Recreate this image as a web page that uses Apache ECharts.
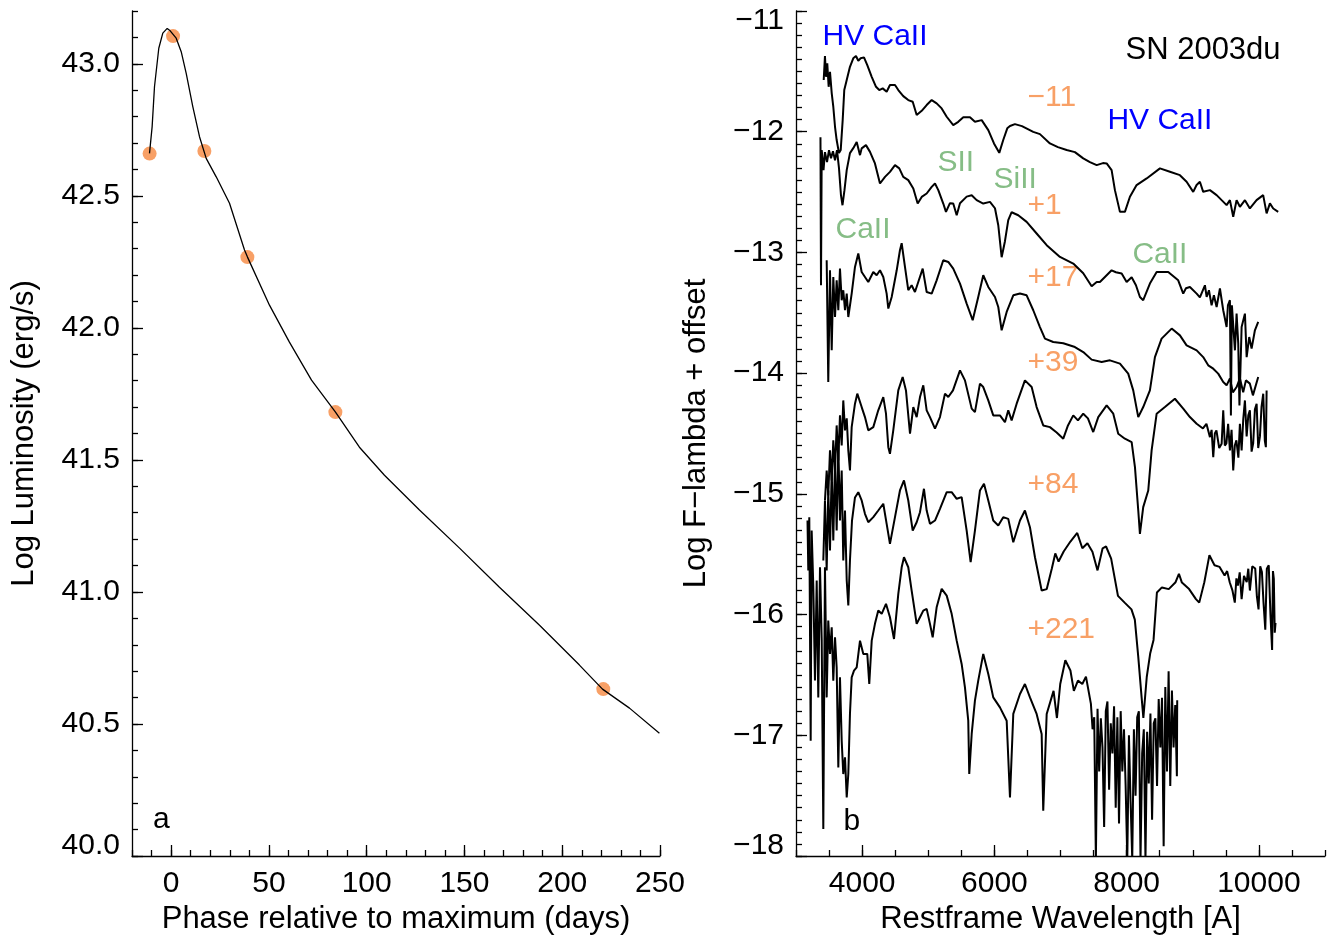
<!DOCTYPE html>
<html>
<head>
<meta charset="utf-8">
<title>SN 2003du</title>
<script src="https://cdn.jsdelivr.net/npm/echarts@6/dist/echarts.min.js"></script>
<style>
  html, body { margin: 0; padding: 0; background: #fff; }
  #chart { width: 1335px; height: 939px; }
</style>
</head>
<body>
<div id="chart"></div>
<script>
// panel a: bolometric light curve (days from max, log L)
const lcPhase = [-11.05, -9.7, -8.5, -6.3, -4.25, -2.0, -0.47, 2.6, 5.16, 7.72, 11.09, 14.52, 17.94, 23.06, 29.86, 37.53, 39.06, 50.3, 60.5, 71.8, 84.06, 96.3, 109.1, 127.0, 147.5, 167.9, 188.4, 208.8, 220.6, 234.4, 249.7]
const lcLogL = [42.661, 42.762, 42.913, 43.059, 43.116, 43.134, 43.125, 43.097, 43.046, 42.964, 42.838, 42.724, 42.642, 42.572, 42.472, 42.295, 42.268, 42.086, 41.946, 41.802, 41.681, 41.548, 41.442, 41.310, 41.166, 41.018, 40.874, 40.723, 40.632, 40.560, 40.465]

// epochs where a spectrum was taken
const specPhase = [-11, 1, 17, 39, 84, 221]
const specLogL = [42.66, 43.105, 42.67, 42.268, 41.681, 40.632]

// tick labels
const lcTicksX = [0, 50, 100, 150, 200, 250]
const lcTicksY = [40.0, 40.5, 41.0, 41.5, 42.0, 42.5, 43.0]
const specTicksX = [4000, 6000, 8000, 10000]

// panel b: spectra, [wavelength A, log F + offset]
const specM11 = [[3419,-11.572],[3438,-11.373],[3454,-11.545],[3473,-11.434],[3494,-11.628],[3514,-11.503],[3540,-11.680],[3564,-11.793],[3590,-11.959],[3615,-12.069],[3650,-12.177],[3676,-12.152],[3706,-11.904],[3730,-11.655],[3767,-11.572],[3816,-11.462],[3866,-11.392],[3907,-11.373],[3942,-11.412],[3978,-11.392],[4028,-11.384],[4078,-11.448],[4145,-11.545],[4210,-11.628],[4259,-11.655],[4311,-11.641],[4371,-11.669],[4421,-11.613],[4497,-11.613],[4547,-11.655],[4622,-11.705],[4698,-11.738],[4765,-11.752],[4825,-11.862],[4901,-11.827],[4976,-11.779],[5052,-11.738],[5127,-11.765],[5203,-11.807],[5279,-11.876],[5378,-11.945],[5454,-11.918],[5530,-11.881],[5631,-11.881],[5706,-11.918],[5808,-11.904],[5908,-11.987],[5994,-12.097],[6074,-12.175],[6134,-12.069],[6195,-11.972],[6236,-11.953],[6311,-11.937],[6417,-11.954],[6588,-12.001],[6689,-12.020],[6840,-12.097],[6961,-12.128],[7093,-12.152],[7218,-12.169],[7344,-12.221],[7445,-12.252],[7547,-12.277],[7642,-12.260],[7698,-12.263],[7773,-12.318],[7823,-12.484],[7899,-12.664],[7974,-12.664],[8050,-12.539],[8151,-12.442],[8303,-12.387],[8504,-12.304],[8655,-12.332],[8806,-12.360],[8907,-12.415],[9007,-12.498],[9058,-12.442],[9108,-12.415],[9158,-12.498],[9260,-12.484],[9361,-12.525],[9437,-12.567],[9512,-12.608],[9562,-12.567],[9612,-12.705],[9663,-12.567],[9713,-12.622],[9789,-12.567],[9864,-12.636],[9965,-12.567],[10065,-12.525],[10117,-12.677],[10167,-12.594],[10217,-12.636],[10292,-12.664]]

const specP1 = [[3370,-12.045],[3378,-13.272],[3389,-12.153],[3416,-12.318],[3438,-12.169],[3469,-12.252],[3499,-12.153],[3529,-12.219],[3559,-12.161],[3590,-12.236],[3620,-12.153],[3650,-12.302],[3680,-12.526],[3703,-12.609],[3733,-12.484],[3767,-12.318],[3816,-12.177],[3866,-12.136],[3918,-12.086],[3968,-12.194],[3993,-12.138],[4058,-12.111],[4119,-12.167],[4194,-12.263],[4270,-12.429],[4346,-12.374],[4421,-12.333],[4497,-12.277],[4562,-12.304],[4622,-12.374],[4698,-12.401],[4774,-12.470],[4840,-12.595],[4901,-12.540],[4976,-12.512],[5052,-12.457],[5102,-12.429],[5152,-12.484],[5227,-12.595],[5268,-12.664],[5328,-12.592],[5378,-12.595],[5430,-12.692],[5480,-12.592],[5581,-12.538],[5657,-12.526],[5732,-12.567],[5832,-12.595],[5933,-12.581],[6009,-12.634],[6059,-12.775],[6110,-13.040],[6160,-12.907],[6210,-12.733],[6261,-12.667],[6361,-12.692],[6488,-12.747],[6639,-12.843],[6791,-12.940],[6992,-13.037],[7193,-13.092],[7344,-13.173],[7471,-13.280],[7547,-13.245],[7596,-13.245],[7672,-13.203],[7773,-13.148],[7838,-13.164],[7925,-13.175],[8000,-13.245],[8076,-13.206],[8141,-13.272],[8201,-13.369],[8251,-13.396],[8352,-13.258],[8454,-13.162],[8629,-13.162],[8780,-13.231],[8856,-13.341],[8897,-13.297],[8957,-13.286],[9059,-13.341],[9108,-13.372],[9184,-13.272],[9210,-13.369],[9245,-13.313],[9285,-13.438],[9320,-13.355],[9361,-13.452],[9411,-13.299],[9461,-13.479],[9512,-13.618],[9532,-13.438],[9562,-13.396],[9577,-14.350],[9592,-13.438],[9638,-13.811],[9663,-13.507],[9688,-13.755],[9706,-14.267],[9739,-13.618],[9789,-13.507],[9815,-13.867],[9854,-13.701],[9890,-13.797],[9940,-13.645],[9990,-13.576]]

const specP17 = [[3464,-13.065],[3488,-14.074],[3514,-13.148],[3540,-13.811],[3564,-13.203],[3590,-13.535],[3615,-13.231],[3640,-13.479],[3665,-13.134],[3691,-13.396],[3715,-13.313],[3741,-13.479],[3767,-13.341],[3791,-13.535],[3816,-13.548],[3842,-13.341],[3892,-13.120],[3942,-13.009],[3993,-13.162],[4043,-13.203],[4093,-13.245],[4169,-13.162],[4220,-13.189],[4270,-13.148],[4320,-13.203],[4371,-13.341],[4396,-13.465],[4447,-13.369],[4523,-13.148],[4572,-12.982],[4598,-12.924],[4648,-13.120],[4698,-13.313],[4749,-13.272],[4799,-13.328],[4849,-13.245],[4916,-13.134],[4976,-13.328],[5052,-13.341],[5127,-13.231],[5227,-13.065],[5303,-13.079],[5378,-13.134],[5480,-13.258],[5581,-13.424],[5672,-13.562],[5756,-13.369],[5832,-13.189],[5908,-13.286],[6009,-13.369],[6059,-13.452],[6110,-13.645],[6186,-13.493],[6286,-13.355],[6387,-13.341],[6488,-13.355],[6588,-13.479],[6689,-13.618],[6765,-13.714],[6890,-13.742],[7042,-13.753],[7218,-13.784],[7344,-13.825],[7471,-13.888],[7622,-13.908],[7748,-13.894],[7899,-13.921],[8024,-14.004],[8100,-14.143],[8176,-14.364],[8251,-14.281],[8352,-14.143],[8428,-13.867],[8529,-13.714],[8681,-13.631],[8806,-13.687],[8907,-13.770],[9059,-13.811],[9158,-13.867],[9234,-13.935],[9310,-13.963],[9385,-14.004],[9461,-14.074],[9512,-14.101],[9562,-14.043],[9607,-14.159],[9663,-14.115],[9713,-14.043],[9763,-14.159],[9804,-14.060],[9864,-14.087],[9910,-14.184],[9990,-14.032]]

const specP39 = [[3438,-15.055],[3464,-14.806],[3488,-15.013],[3514,-14.640],[3540,-14.889],[3564,-14.557],[3590,-14.806],[3615,-14.433],[3640,-14.723],[3665,-14.350],[3691,-14.599],[3715,-14.226],[3741,-14.474],[3767,-14.375],[3791,-14.640],[3816,-14.806],[3842,-14.447],[3892,-14.253],[3927,-14.170],[3957,-14.157],[3993,-14.281],[4043,-14.364],[4093,-14.474],[4169,-14.447],[4244,-14.308],[4320,-14.198],[4361,-14.336],[4396,-14.613],[4421,-14.668],[4471,-14.474],[4547,-14.143],[4613,-14.032],[4663,-14.143],[4724,-14.502],[4774,-14.281],[4825,-14.364],[4875,-14.198],[4925,-14.101],[4976,-14.308],[5026,-14.364],[5102,-14.460],[5177,-14.364],[5253,-14.170],[5303,-14.198],[5374,-14.143],[5480,-13.977],[5555,-14.060],[5657,-14.294],[5706,-14.323],[5782,-14.087],[5832,-14.115],[5908,-14.226],[5983,-14.350],[6084,-14.350],[6160,-14.406],[6210,-14.308],[6261,-14.391],[6337,-14.253],[6462,-14.060],[6564,-14.115],[6639,-14.281],[6739,-14.433],[6840,-14.447],[6942,-14.491],[7042,-14.543],[7113,-14.433],[7193,-14.350],[7264,-14.391],[7344,-14.336],[7415,-14.375],[7495,-14.488],[7571,-14.364],[7698,-14.267],[7798,-14.336],[7873,-14.502],[7974,-14.543],[8076,-14.571],[8126,-14.779],[8176,-15.138],[8201,-15.331],[8251,-15.110],[8327,-14.972],[8378,-14.640],[8454,-14.336],[8579,-14.281],[8730,-14.212],[8856,-14.294],[8957,-14.364],[9059,-14.419],[9154,-14.458],[9207,-14.420],[9260,-14.530],[9285,-14.470],[9310,-14.696],[9334,-14.500],[9358,-14.474],[9400,-14.620],[9437,-14.585],[9461,-14.308],[9485,-14.600],[9509,-14.582],[9535,-14.420],[9562,-14.640],[9587,-14.470],[9612,-14.806],[9636,-14.600],[9660,-14.557],[9690,-14.700],[9713,-14.419],[9739,-14.640],[9764,-14.380],[9789,-14.226],[9815,-14.524],[9840,-14.350],[9864,-14.308],[9890,-14.650],[9914,-14.582],[9940,-14.300],[9966,-14.253],[9990,-14.620],[10016,-14.524],[10040,-14.280],[10066,-14.170],[10090,-14.560],[10106,-14.613],[10117,-14.143]]

const specP84 = [[3413,-15.552],[3438,-15.055],[3464,-15.635],[3488,-14.972],[3514,-15.469],[3540,-14.806],[3564,-15.386],[3590,-14.723],[3615,-15.304],[3640,-14.599],[3665,-15.221],[3691,-14.806],[3715,-15.552],[3741,-15.138],[3767,-15.718],[3791,-15.925],[3816,-15.552],[3847,-15.221],[3892,-15.030],[3942,-14.986],[3993,-15.055],[4043,-15.165],[4093,-15.235],[4169,-15.193],[4244,-15.138],[4320,-15.082],[4371,-15.248],[4421,-15.414],[4497,-15.193],[4572,-14.972],[4633,-14.889],[4698,-15.055],[4765,-15.304],[4825,-15.235],[4875,-15.152],[4935,-14.958],[4976,-15.138],[5026,-15.248],[5102,-15.221],[5177,-15.124],[5279,-14.986],[5354,-14.986],[5430,-15.041],[5505,-15.027],[5581,-15.304],[5641,-15.566],[5706,-15.304],[5782,-14.972],[5843,-14.916],[5908,-15.055],[5983,-15.221],[6059,-15.262],[6134,-15.193],[6210,-15.207],[6286,-15.401],[6387,-15.221],[6462,-15.138],[6538,-15.276],[6614,-15.525],[6715,-15.801],[6792,-15.789],[6869,-15.619],[6921,-15.494],[6971,-15.561],[7048,-15.478],[7150,-15.395],[7253,-15.324],[7330,-15.451],[7407,-15.409],[7483,-15.479],[7560,-15.634],[7637,-15.451],[7689,-15.436],[7766,-15.536],[7869,-15.845],[7970,-15.901],[8073,-15.957],[8124,-16.042],[8176,-16.351],[8227,-16.688],[8253,-16.857],[8304,-16.519],[8356,-16.323],[8407,-16.210],[8458,-15.817],[8534,-15.775],[8637,-15.789],[8740,-15.732],[8791,-15.662],[8836,-15.735],[8945,-15.789],[9048,-15.872],[9098,-15.901],[9175,-15.732],[9252,-15.508],[9329,-15.591],[9406,-15.605],[9482,-15.676],[9520,-15.640],[9559,-15.732],[9600,-15.800],[9636,-15.901],[9660,-15.700],[9683,-15.760],[9710,-15.650],[9739,-15.872],[9775,-15.680],[9816,-15.732],[9840,-15.620],[9864,-15.801],[9900,-15.600],[9945,-15.619],[9970,-15.850],[9995,-15.957],[10020,-15.600],[10046,-15.648],[10070,-15.900],[10097,-16.126],[10120,-15.620],[10149,-15.591],[10175,-16.000],[10200,-16.294],[10213,-15.640],[10226,-15.704],[10240,-16.150],[10252,-16.070]]

const specP221 = [[3174,-15.221],[3186,-15.635],[3201,-15.193],[3222,-17.045],[3237,-15.304],[3262,-15.774],[3287,-16.547],[3313,-15.718],[3337,-16.686],[3363,-15.608],[3389,-16.216],[3413,-17.777],[3438,-15.608],[3464,-16.686],[3488,-16.050],[3514,-16.326],[3540,-16.105],[3564,-16.547],[3590,-16.188],[3615,-16.437],[3640,-17.266],[3665,-16.520],[3691,-17.045],[3715,-17.321],[3741,-17.183],[3767,-17.515],[3791,-17.321],[3816,-16.823],[3842,-16.520],[3877,-16.464],[3918,-16.437],[3968,-16.216],[4018,-16.326],[4078,-16.326],[4108,-16.575],[4145,-16.216],[4194,-16.077],[4244,-15.967],[4296,-15.994],[4361,-15.911],[4421,-16.022],[4482,-16.202],[4547,-15.828],[4598,-15.608],[4633,-15.525],[4698,-15.608],[4749,-15.801],[4825,-16.077],[4875,-16.022],[4925,-15.967],[4976,-15.953],[5026,-16.077],[5067,-16.188],[5127,-15.940],[5203,-15.787],[5279,-15.843],[5354,-15.994],[5430,-16.216],[5505,-16.409],[5555,-16.603],[5605,-16.879],[5620,-17.321],[5657,-16.989],[5706,-16.713],[5756,-16.547],[5832,-16.326],[5908,-16.492],[5983,-16.686],[6084,-16.769],[6186,-16.879],[6236,-17.515],[6286,-16.823],[6387,-16.658],[6462,-16.575],[6538,-16.686],[6639,-16.823],[6715,-16.989],[6739,-17.625],[6791,-16.823],[6895,-16.632],[6946,-16.857],[6996,-16.575],[7073,-16.379],[7150,-16.463],[7202,-16.632],[7264,-16.547],[7330,-16.575],[7385,-16.514],[7460,-16.74],[7485,-16.95],[7510,-16.85],[7535,-18.03],[7560,-16.78],[7585,-17.30],[7610,-16.86],[7635,-17.10],[7660,-17.76],[7685,-16.80],[7710,-16.72],[7735,-17.45],[7760,-16.90],[7785,-17.15],[7810,-16.76],[7835,-17.60],[7860,-16.85],[7885,-17.73],[7910,-16.80],[7935,-17.30],[7960,-16.95],[7985,-17.42],[8010,-18.03],[8035,-17.00],[8060,-17.55],[8085,-18.03],[8110,-16.95],[8135,-17.50],[8160,-16.85],[8185,-16.80],[8210,-18.03],[8235,-17.15],[8260,-16.95],[8285,-18.03],[8310,-16.97],[8335,-17.40],[8360,-16.82],[8385,-17.70],[8410,-16.90],[8435,-16.86],[8460,-17.42],[8485,-16.70],[8510,-17.10],[8535,-16.69],[8560,-17.92],[8585,-16.60],[8610,-17.30],[8635,-16.47],[8660,-17.42],[8685,-16.63],[8710,-17.10],[8735,-16.75],[8760,-17.34],[8765,-16.71]]

const spectra = [specM11, specP1, specP17, specP39, specP84, specP221]

// text notes in panel b: [wavelength, flux, text, kind]
const notes = [
  [3393, -11.216, 'HV CaII', 'hv'],
  [7975, -11.323, 'SN 2003du', 'name'],
  [6493, -11.721, '\u221211', 'epoch'],
  [7702, -11.912, 'HV CaII', 'hv'],
  [5132, -12.26, 'SII', 'ion'],
  [5979, -12.40, 'SiII', 'ion'],
  [6493, -12.617, '+1', 'epoch'],
  [3590, -12.816, 'CaII', 'ion'],
  [8080, -13.015, 'CaII', 'ion'],
  [6493, -13.213, '+17', 'epoch'],
  [6493, -13.91, '+39', 'epoch'],
  [6493, -14.922, '+84', 'epoch'],
  [6493, -16.124, '+221', 'epoch'],
  [3711, -17.72, 'b', 'name']
]

const font = 'Liberation Sans, Arial, Helvetica, sans-serif'
const ink = '#000'
const orange = '#f8a066'
const noteColor = { hv: '#0000ff', name: ink, epoch: orange, ion: '#86bd86' }
const tickStyle = { color: ink, width: 1.3 }

// major axis: line, long ticks, labels
function majorAxis(gridIndex, pos, min, max, step, extra) {
  return Object.assign({
    gridIndex, position: pos, type: 'value', min, max, interval: step,
    axisLine: { show: true, onZero: false, lineStyle: tickStyle },
    axisTick: { show: true, inside: true, length: 11, lineStyle: tickStyle },
    splitLine: { show: false },
    nameLocation: 'middle',
    nameTextStyle: { fontSize: 31, color: ink, fontFamily: font }
  }, extra)
}
// minor axis: short ticks only
function minorAxis(gridIndex, pos, min, max, step) {
  return {
    gridIndex, position: pos, type: 'value', min, max, interval: step,
    axisLine: { show: false, onZero: false },
    axisTick: { show: true, inside: true, length: 6, lineStyle: tickStyle },
    axisLabel: { show: false },
    splitLine: { show: false }
  }
}

const labelBase = { fontSize: 30, color: ink, fontFamily: font }
const shiftRich = {
  lo: { fontSize: 30, color: ink, fontFamily: font, padding: [0, 0, 20, 0] },
  hi: { fontSize: 30, color: ink, fontFamily: font, padding: [20, 0, 0, 0] }
}

function noteLabel(text, color, size) {
  return { show: true, position: 'right', distance: 0, formatter: text, color, opacity: 1, fontSize: size, fontFamily: font }
}

const option = {
  animation: false,
  backgroundColor: '#fff',
  textStyle: { fontFamily: font },
  grid: [
    { left: 132, top: 11, width: 528, height: 845, containLabel: false, outerBoundsMode: 'none' },
    { left: 796, top: 11, width: 529, height: 845, containLabel: false, outerBoundsMode: 'none' }
  ],
  xAxis: [
    majorAxis(0, 'bottom', -20, 250, 10, {
      name: 'Phase relative to maximum (days)', nameGap: 46,
      axisTick: { show: true, inside: true, length: 11, lineStyle: tickStyle, customValues: lcTicksX },
      axisLabel: Object.assign({ margin: 13, customValues: lcTicksX, formatter: v => String(v) }, labelBase)
    }),
    minorAxis(0, 'bottom', -20, 250, 10),
    majorAxis(1, 'bottom', 3000, 11000, 500, {
      name: 'Restframe Wavelength [A]', nameGap: 46,
      axisTick: { show: true, inside: true, length: 11, lineStyle: tickStyle, customValues: specTicksX },
      axisLabel: Object.assign({ margin: 13, customValues: specTicksX, formatter: v => String(v) }, labelBase)
    }),
    minorAxis(1, 'bottom', 3000, 11000, 500)
  ],
  yAxis: [
    majorAxis(0, 'left', 40, 43.2, 0.1, {
      name: 'Log Luminosity (erg/s)', nameGap: 92,
      axisTick: { show: true, inside: true, length: 11, lineStyle: tickStyle, customValues: lcTicksY },
      axisLabel: Object.assign({
        margin: 12, customValues: lcTicksY, rich: shiftRich,
        formatter: v => v === 40 ? '{lo|' + v.toFixed(1) + '}' : v.toFixed(1)
      }, labelBase)
    }),
    minorAxis(0, 'left', 40, 43.2, 0.1),
    majorAxis(1, 'left', -18, -11, 1, {
      name: 'Log F\u2212lambda + offset', nameGap: 84,
      axisLabel: Object.assign({
        margin: 12, rich: shiftRich,
        formatter: v => {
          const s = '\u2212' + Math.abs(v)
          if (v === -11) return '{hi|' + s + '}'
          if (v === -18) return '{lo|' + s + '}'
          return s
        }
      }, labelBase)
    }),
    minorAxis(1, 'left', -18, -11, 0.1)
  ],
  series: [
    {
      type: 'line', xAxisIndex: 0, yAxisIndex: 0,
      data: lcPhase.map((d, i) => [d, lcLogL[i]]),
      showSymbol: false, smooth: false,
      lineStyle: { color: ink, width: 1.3 }, silent: true
    },
    {
      type: 'scatter', xAxisIndex: 0, yAxisIndex: 0,
      data: specPhase.map((d, i) => [d, specLogL[i]]),
      symbolSize: 14, itemStyle: { color: orange, opacity: 1 }, silent: true
    },
    ...spectra.map(s => ({
      type: 'line', xAxisIndex: 2, yAxisIndex: 2, data: s,
      showSymbol: false, lineStyle: { color: ink, width: 2 }, silent: true
    })),
    {
      type: 'scatter', xAxisIndex: 2, yAxisIndex: 2, silent: true,
      symbolSize: 1, itemStyle: { color: 'rgba(0,0,0,0)', opacity: 1 },
      data: notes.map(n => ({
        value: [n[0], n[1]],
        label: noteLabel(n[2], noteColor[n[3]], n[3] === 'name' && n[2] !== 'b' ? 31 : 30)
      }))
    },
    {
      type: 'scatter', xAxisIndex: 0, yAxisIndex: 0, silent: true,
      symbolSize: 1, itemStyle: { color: 'rgba(0,0,0,0)', opacity: 1 },
      data: [{ value: [-9.5, 40.136], label: noteLabel('a', ink, 30) }]
    }
  ]
}

const myChart = echarts.init(document.getElementById('chart'))
myChart.setOption(option)
window.addEventListener('resize', () => { myChart && myChart.resize() })
</script>
</body>
</html>
